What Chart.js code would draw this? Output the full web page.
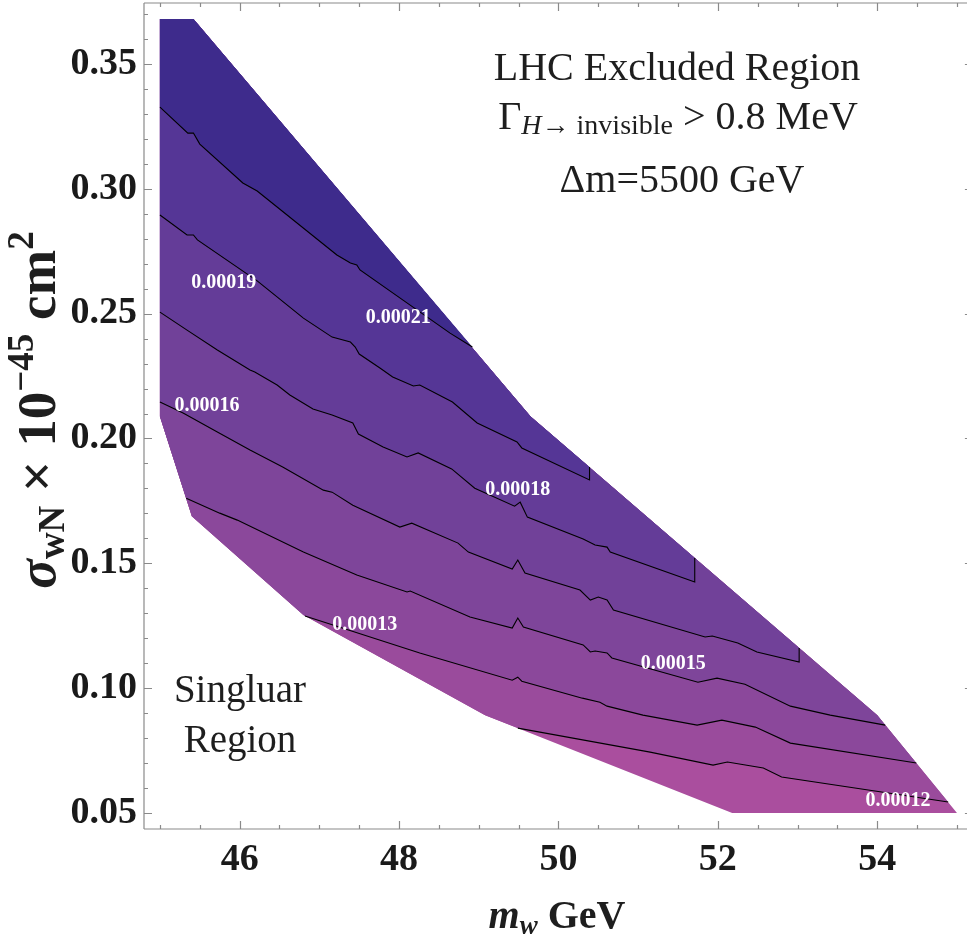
<!DOCTYPE html>
<html>
<head>
<meta charset="utf-8">
<script src="https://cdn.jsdelivr.net/npm/chart.js@4.4.0/dist/chart.umd.min.js"></script>
<style>
  html, body { margin: 0; padding: 0; background: #fff; overflow: hidden; }
  #wrap { width: 967px; height: 941px; }
</style>
</head>
<body>
<div id="wrap"><canvas id="contourChart" width="967" height="941"></canvas></div>
<script>
// Axis limits and tick labels
const xMin = 44.8, xMax = 55.126, xFrameEnd = 55.2;
const yMin = 0.0436, yMax = 0.3744;
const xTickValues = [46, 48, 50, 52, 54];
const yTickValues = [0.05, 0.10, 0.15, 0.20, 0.25, 0.30, 0.35];

// Outline of the excluded region (clockwise from top-left)
const regionX = [45.00, 45.42, 49.65, 54.00, 55.00, 52.18, 49.08, 46.80, 45.40, 45.00];
const regionY = [0.3680, 0.3680, 0.2088, 0.0892, 0.0500, 0.0500, 0.0892, 0.1293, 0.1689, 0.2088];

// Contour lines, highest level first
const c1X = [45.00, 45.35, 45.42, 45.50, 46.04, 46.22, 47.22, 47.39, 47.47, 47.51, 48.05, 48.64, 48.92];
const c1Y = [0.3327, 0.3223, 0.3223, 0.3179, 0.3023, 0.2991, 0.2735, 0.2703, 0.2695, 0.2675, 0.2554, 0.2422, 0.2366];

const c2X = [45.00, 45.34, 45.42, 45.47, 46.22, 46.80, 47.16, 47.39, 47.45, 47.50, 47.76, 47.92, 48.18, 48.26, 48.67, 48.98, 49.48, 49.54, 50.39, 50.39];
const c2Y = [0.2895, 0.2815, 0.2815, 0.2795, 0.2631, 0.2482, 0.2406, 0.2386, 0.2366, 0.2338, 0.2282, 0.2246, 0.2210, 0.2214, 0.2146, 0.2062, 0.1986, 0.1962, 0.1834, 0.1886];

const c3X = [45.00, 45.34, 45.72, 46.13, 46.19, 46.47, 46.63, 46.92, 47.16, 47.42, 47.49, 47.80, 48.10, 48.24, 48.66, 48.95, 49.45, 49.52, 49.61, 50.31, 50.46, 50.61, 50.65, 51.71, 51.71];
const c3Y = [0.2506, 0.2434, 0.2354, 0.2274, 0.2266, 0.2214, 0.2174, 0.2118, 0.2094, 0.2062, 0.2018, 0.1966, 0.1926, 0.1942, 0.1878, 0.1801, 0.1729, 0.1745, 0.1685, 0.1597, 0.1573, 0.1565, 0.1545, 0.1425, 0.1521];

const c4X = [45.00, 45.29, 45.72, 46.13, 46.54, 47.05, 47.16, 47.42, 48.01, 48.16, 48.74, 48.87, 49.42, 49.49, 49.58, 50.27, 50.40, 50.50, 50.61, 50.69, 51.84, 51.93, 52.25, 52.49, 53.02, 53.02];
const c4Y = [0.2146, 0.2102, 0.2026, 0.1954, 0.1886, 0.1793, 0.1785, 0.1733, 0.1645, 0.1661, 0.1581, 0.1545, 0.1477, 0.1513, 0.1461, 0.1393, 0.1353, 0.1365, 0.1353, 0.1313, 0.1205, 0.1209, 0.1181, 0.1145, 0.1105, 0.1161];

const c5X = [45.33, 45.75, 45.97, 46.80, 47.47, 48.10, 48.14, 48.89, 49.42, 49.49, 49.56, 50.31, 50.40, 50.46, 50.61, 50.67, 51.75, 51.99, 52.34, 52.91, 53.41, 54.10];
const c5Y = [0.1761, 0.1701, 0.1673, 0.1545, 0.1453, 0.1385, 0.1389, 0.1285, 0.1241, 0.1281, 0.1245, 0.1173, 0.1145, 0.1149, 0.1141, 0.1121, 0.1024, 0.1040, 0.1016, 0.0928, 0.0892, 0.0852];

const c6X = [46.82, 48.26, 49.42, 49.49, 49.54, 50.30, 50.52, 50.61, 51.06, 51.74, 52.05, 52.47, 52.91, 54.49];
const c6Y = [0.1289, 0.1141, 0.1032, 0.1044, 0.1028, 0.0960, 0.0944, 0.0928, 0.0892, 0.0852, 0.0872, 0.0844, 0.0780, 0.0700];

const c7X = [49.49, 51.15, 51.94, 52.12, 52.57, 52.80, 54.89];
const c7Y = [0.0840, 0.0744, 0.0692, 0.0704, 0.0680, 0.0644, 0.0544];

// Contour labels
const labelText = ['0.00021', '0.00019', '0.00018', '0.00016', '0.00015', '0.00013', '0.00012'];
const labelX = [47.99, 45.80, 49.49, 45.59, 51.44, 47.57, 54.26];
const labelY = [0.2482, 0.2623, 0.1793, 0.2130, 0.1097, 0.1253, 0.0548];

// Band colours, top band first
const bandColors = ['#3e2b8c', '#553696', '#643c98', '#714199', '#7e459a', '#8b489b', '#9a4b9c', '#aa4e9e'];

const serif = '"Liberation Serif", "DejaVu Serif", serif';

function toPoints(xs, ys) {
    return xs.map((x, i) => ({ x: x, y: ys[i] }));
}

const region = toPoints(regionX, regionY);
const contourLines = [[c1X, c1Y], [c2X, c2Y], [c3X, c3Y], [c4X, c4Y], [c5X, c5Y], [c6X, c6Y], [c7X, c7Y]];

function segDist(p, a, b) {
    const ax = a.x * 80, ay = a.y * 2500, bx = b.x * 80, by = b.y * 2500;
    const px = p.x * 80, py = p.y * 2500;
    const dx = bx - ax, dy = by - ay;
    let t = ((px - ax) * dx + (py - ay) * dy) / (dx * dx + dy * dy);
    t = Math.max(0, Math.min(1, t));
    return Math.hypot(px - ax - t * dx, py - ay - t * dy);
}

function edgeOf(p) {
    let best = 0, bestD = Infinity;
    for (let k = 0; k < region.length; k++) {
        const d = segDist(p, region[k], region[(k + 1) % region.length]);
        if (d < bestD) { bestD = d; best = k; }
    }
    return best;
}

// Area of the region lying above a contour: the line plus the outline walked back to its start
function bandAbove(xs, ys) {
    const pts = toPoints(xs, ys);
    const n = region.length;
    const i = edgeOf(pts[pts.length - 1]);
    const j = edgeOf(pts[0]);
    let k = i;
    for (;;) {
        pts.push(region[k]);
        if (k === (j + 1) % n) break;
        k = (k - 1 + n) % n;
    }
    pts.push(pts[0]);
    return pts;
}

const datasets = [];
datasets.push({
    data: region.concat([region[0]]),
    backgroundColor: bandColors[7],
    fill: 'shape',
    borderWidth: 0,
    order: 100
});
contourLines.forEach(([xs, ys], k) => {
    datasets.push({
        data: bandAbove(xs, ys),
        backgroundColor: bandColors[k],
        fill: 'shape',
        borderWidth: 0,
        order: 50 + k
    });
});
contourLines.forEach(([xs, ys]) => {
    datasets.push({
        data: toPoints(xs, ys),
        borderColor: '#000',
        borderWidth: 1.1,
        fill: false,
        order: 1
    });
});

function richWidth(ctx, parts) {
    let w = 0;
    parts.forEach(p => { ctx.font = p.font; w += ctx.measureText(p.t).width; });
    return w;
}

function drawRich(ctx, parts, cx, baseY) {
    let x = cx - richWidth(ctx, parts) / 2;
    ctx.textAlign = 'left';
    ctx.textBaseline = 'alphabetic';
    parts.forEach(p => {
        ctx.font = p.font;
        ctx.fillText(p.t, x, baseY + (p.dy || 0));
        x += ctx.measureText(p.t).width;
    });
}

// Mathematica style frame: gray lines, ticks pointing inward on all four sides
const framePlugin = {
    id: 'frame',
    afterDraw(chart) {
        const { ctx, chartArea: a, scales: { x, y } } = chart;
        const right = x.getPixelForValue(xFrameEnd);
        ctx.save();
        ctx.strokeStyle = '#8a8a8a';
        ctx.lineWidth = 1.2;
        ctx.beginPath();
        ctx.moveTo(a.left, a.top); ctx.lineTo(right, a.top);
        ctx.moveTo(a.left, a.top); ctx.lineTo(a.left, a.bottom);
        ctx.moveTo(a.left, a.bottom); ctx.lineTo(right, a.bottom);
        for (let i = 90; i <= 110; i++) {
            const v = i / 2;
            const px = Math.round(x.getPixelForValue(v)) + 0.5;
            const len = xTickValues.includes(v) ? 8 : 4;
            ctx.moveTo(px, a.bottom); ctx.lineTo(px, a.bottom - len);
            ctx.moveTo(px, a.top); ctx.lineTo(px, a.top + len);
        }
        for (let i = 5; i <= 37; i++) {
            const py = Math.round(y.getPixelForValue(i / 100)) + 0.5;
            const len = i % 5 === 0 ? 8 : 4;
            ctx.moveTo(a.left, py); ctx.lineTo(a.left + len, py);
            ctx.moveTo(right, py); ctx.lineTo(right - len, py);
        }
        ctx.stroke();
        ctx.restore();
    }
};

const textPlugin = {
    id: 'texts',
    afterDatasetsDraw(chart) {
        const { ctx, scales: { x, y } } = chart;
        ctx.save();
        ctx.fillStyle = '#fff';
        ctx.font = 'bold 20px ' + serif;
        ctx.textAlign = 'center';
        ctx.textBaseline = 'middle';
        labelText.forEach((t, i) => {
            ctx.fillText(t, x.getPixelForValue(labelX[i]), y.getPixelForValue(labelY[i]));
        });
        ctx.restore();
    },
    afterDraw(chart) {
        const ctx = chart.ctx;
        ctx.save();
        ctx.fillStyle = '#1e1e1e';
        const big = '40px ' + serif, sub = '28px ' + serif;
        drawRich(ctx, [{ t: 'LHC Excluded Region', font: big }], 677, 80);
        drawRich(ctx, [
            { t: '\u0393', font: big },
            { t: 'H', font: 'italic ' + sub, dy: 5 },
            { t: '\u2192 invisible', font: sub, dy: 5 },
            { t: ' > 0.8 MeV', font: big }
        ], 678, 129);
        drawRich(ctx, [{ t: '\u0394m=5500 GeV', font: big }], 682, 192);
        drawRich(ctx, [{ t: 'Singluar', font: '39px ' + serif }], 240, 702);
        drawRich(ctx, [{ t: 'Region', font: '39px ' + serif }], 240, 752);

        // axis titles
        drawRich(ctx, [
            { t: 'm', font: 'italic bold 40px ' + serif },
            { t: 'w', font: 'italic bold 27px ' + serif, dy: 6 },
            { t: ' GeV', font: 'bold 40px ' + serif }
        ], 557, 928);

        ctx.translate(55, 410);
        ctx.rotate(-Math.PI / 2);
        drawRich(ctx, [
            { t: '\u03c3', font: 'italic bold 55px ' + serif },
            { t: 'wN', font: 'bold 37px ' + serif, dy: 9 },
            { t: ' \u00d7 10', font: 'bold 55px ' + serif },
            { t: '\u221245', font: 'bold 37px ' + serif, dy: -22 },
            { t: ' cm', font: 'bold 55px ' + serif },
            { t: '2', font: 'bold 37px ' + serif, dy: -22 }
        ], 0, 0);
        ctx.restore();
    }
};

const tickFont = { family: serif, size: 38, weight: 'bold' };

new Chart(document.getElementById('contourChart'), {
    type: 'scatter',
    data: { datasets: datasets },
    options: {
        responsive: false,
        animation: false,
        events: [],
        showLine: true,
        layout: { padding: { top: 3, right: 0, bottom: 0, left: 0 } },
        elements: {
            point: { radius: 0 },
            line: { tension: 0 }
        },
        plugins: {
            legend: { display: false },
            tooltip: { enabled: false }
        },
        scales: {
            x: {
                type: 'linear',
                min: xMin,
                max: xMax,
                grid: { display: false, drawTicks: false },
                border: { display: false },
                ticks: {
                    font: tickFont,
                    color: '#1a1a1a',
                    padding: 8,
                    maxRotation: 0,
                    autoSkip: false,
                    callback: v => String(v)
                },
                afterBuildTicks: s => { s.ticks = xTickValues.map(v => ({ value: v })); },
                afterFit: s => { s.height = 112; s.paddingLeft = 0; s.paddingRight = 0; }
            },
            y: {
                type: 'linear',
                min: yMin,
                max: yMax,
                grid: { display: false, drawTicks: false },
                border: { display: false },
                ticks: {
                    font: tickFont,
                    color: '#1a1a1a',
                    padding: 7,
                    autoSkip: false,
                    callback: v => v.toFixed(2)
                },
                afterBuildTicks: s => { s.ticks = yTickValues.map(v => ({ value: v })); },
                afterFit: s => { s.width = 144; s.paddingTop = 0; s.paddingBottom = 0; }
            }
        }
    },
    plugins: [framePlugin, textPlugin]
});
</script>
</body>
</html>
